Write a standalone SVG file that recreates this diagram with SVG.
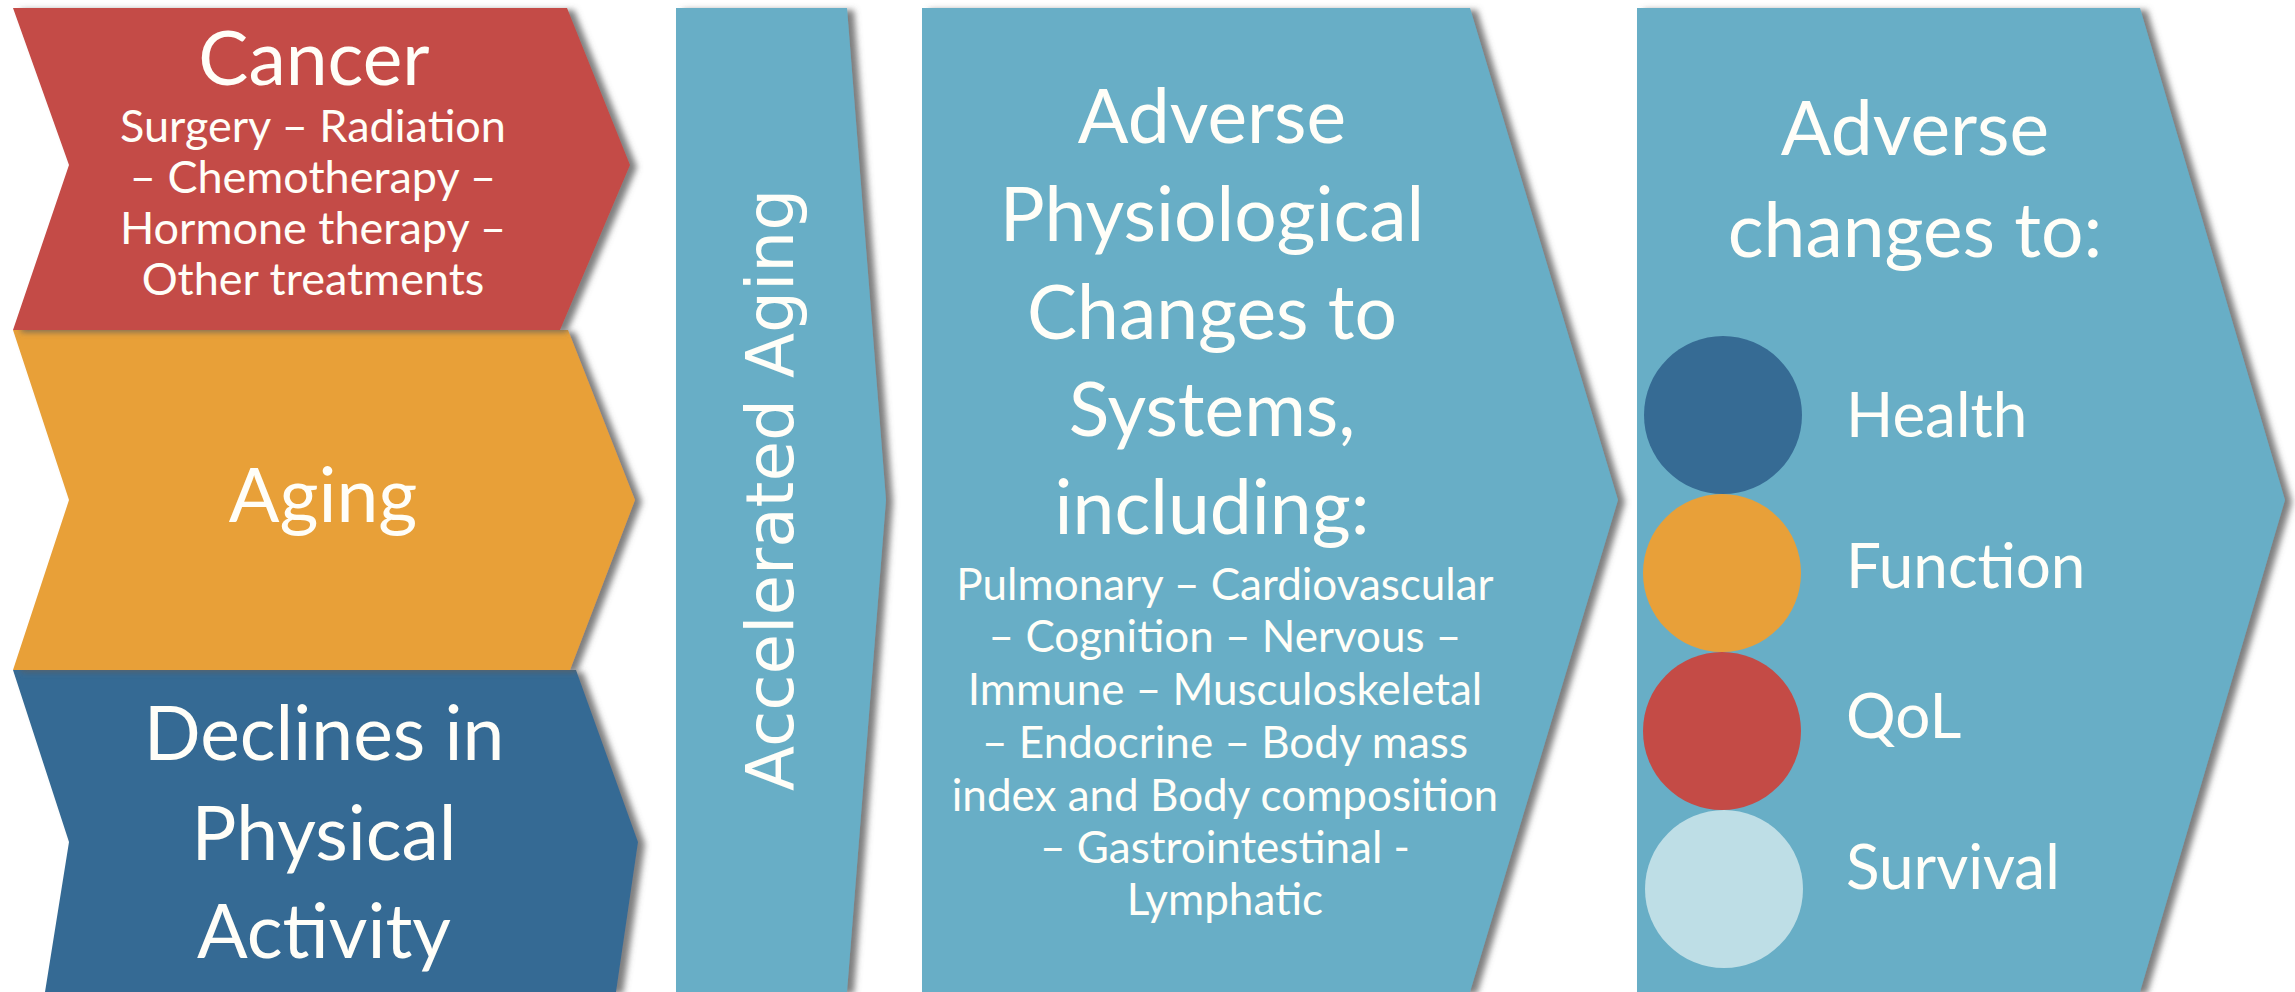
<svg xmlns="http://www.w3.org/2000/svg" width="2295" height="992" viewBox="0 0 2295 992">
  <defs>
    <filter id="shadow" x="-10%" y="-10%" width="130%" height="130%">
      <feDropShadow dx="7" dy="2" stdDeviation="3" flood-color="#5f5f5f" flood-opacity="0.8"/>
    </filter>
  </defs>
  <style>
    .shape { filter: url(#shadow); }
    .red { fill: #C44B46; }
    .orange { fill: #E8A039; }
    .blue { fill: #366B94; }
    .teal { fill: #67AEC6; }
    .light { fill: #BEDEE6; }
    text { fill: #FFFEF8; font-family: Lato, "Open Sans", sans-serif; }
    .c { text-anchor: middle; }
    .title { font-size: 75px; }
    .sub { font-size: 45px; }
    .small { font-size: 44px; }
    .label { font-size: 62px; }
    .rot { font-family: "DejaVu Sans", Verdana, sans-serif; font-size: 66px; text-anchor: middle; }
  </style>
  <rect width="2295" height="992" fill="#FFFFFF"/>

  <g id="declines">
    <polygon class="shape blue" points="13,670 576,670 638,842 616,992 45,992 69,842"/>
    <text class="c title" x="324" y="760">Declines in</text>
    <text class="c title" x="324" y="860">Physical</text>
    <text class="c title" x="324" y="958">Activity</text>
  </g>

  <g id="aging">
    <polygon class="shape orange" points="13,330 568,330 635,500 570,670 13,670 69,500"/>
    <text class="c title" x="323" y="522">Aging</text>
  </g>

  <g id="cancer">
    <polygon class="shape red" points="13,8 567,8 630,165 560,330 13,330 69,165"/>
    <text class="c title" x="314" y="85">Cancer</text>
    <text class="c sub" x="313" y="142">Surgery – Radiation</text>
    <text class="c sub" x="313" y="193">– Chemotherapy –</text>
    <text class="c sub" x="313" y="244">Hormone therapy –</text>
    <text class="c sub" x="313" y="295">Other treatments</text>
  </g>

  <g id="accelerated-aging">
    <polygon class="shape teal" points="676,8 847,8 886,500 847,992 676,992"/>
    <text class="rot" transform="translate(793,490) rotate(-90)">Accelerated Aging</text>
  </g>

  <g id="physiological-changes">
    <polygon class="shape teal" points="922,8 1470,8 1618,500 1470,992 922,992"/>
    <text class="c title" x="1212" y="143">Adverse</text>
    <text class="c title" x="1212" y="241">Physiological</text>
    <text class="c title" x="1212" y="339">Changes to</text>
    <text class="c title" x="1212" y="436">Systems,</text>
    <text class="c title" x="1212" y="534">including:</text>
    <text class="c small" x="1225" y="600">Pulmonary – Cardiovascular</text>
    <text class="c small" x="1225" y="652">– Cognition – Nervous –</text>
    <text class="c small" x="1225" y="705">Immune – Musculoskeletal</text>
    <text class="c small" x="1225" y="758">– Endocrine – Body mass</text>
    <text class="c small" x="1225" y="811">index and Body composition</text>
    <text class="c small" x="1225" y="863">– Gastrointestinal -</text>
    <text class="c small" x="1225" y="915">Lymphatic</text>
  </g>

  <g id="adverse-changes">
    <polygon class="shape teal" points="1637,8 2140,8 2285,500 2140,992 1637,992"/>
    <text class="c title" x="1915" y="155">Adverse</text>
    <text class="c title" x="1915" y="257">changes to:</text>
  </g>

  <g id="health">
    <circle class="blue" cx="1723" cy="415" r="79"/>
    <text class="label" x="1846" y="437">Health</text>
  </g>
  <g id="function">
    <circle class="orange" cx="1722" cy="573" r="79"/>
    <text class="label" x="1846" y="588">Function</text>
  </g>
  <g id="qol">
    <circle class="red" cx="1722" cy="731" r="79"/>
    <text class="label" x="1846" y="738">QoL</text>
  </g>
  <g id="survival">
    <circle class="light" cx="1724" cy="889" r="79"/>
    <text class="label" x="1846" y="889">Survival</text>
  </g>

  <g id="connectors"/>
</svg>
